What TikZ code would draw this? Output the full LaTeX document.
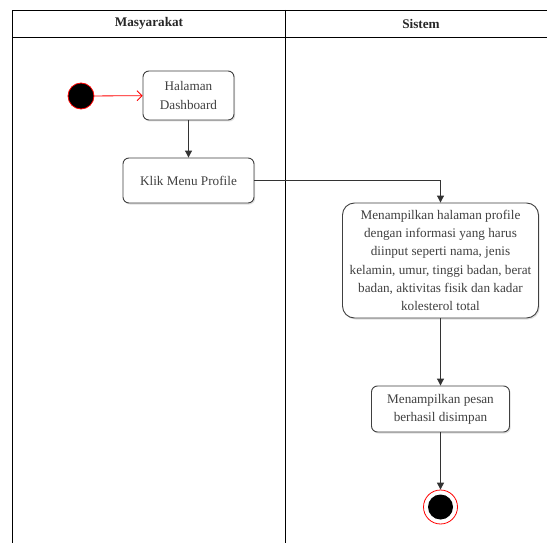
\documentclass[tikz,border=0pt]{standalone}
\usepackage{fontspec}
\setmainfont{Liberation Serif}
\usetikzlibrary{arrows.meta,shadows}

\begin{document}
\begin{tikzpicture}[
					x = 1pt,
					y = -1pt,
					font = \fontsize{13.2}{18.3}\selectfont,
					activity/.style = {
						shape = rectangle,
						draw = black!75,
						line width = 0.9pt,
						rounded corners = 6pt,
						fill = white,
						align = center,
						inner sep = 0pt,
						text = black!75,
						drop shadow = {opacity = 0.25, shadow xshift = 1.2pt, shadow yshift = -1.5pt},
					},
					lanehead/.style = {
						font = \fontsize{13.2}{18}\selectfont\bfseries,
						text = black!85,
					},
					flow/.style = {
						draw = black!80,
						line width = 1pt,
						-{Triangle[length = 7pt, width = 7pt]},
					},
			]
				\useasboundingbox (0, 0) rectangle (547, 543);
				\fill[white] (0, 0) rectangle (547, 543);

				\draw[line width = 0.9pt] (547, 10) -- (12, 10) -- (12, 543);
				\draw[line width = 0.9pt] (12, 37) -- (547, 37);
				\draw[line width = 0.9pt] (285, 10) -- (285, 543);
				\draw (149, 23.5) node (h1) [lanehead] {Masyarakat};
				\draw (421, 23.5) node (h2) [lanehead] {Sistem};

				\draw (81, 96) node (start) [circle, fill = black, draw = red, line width = 0.8pt, minimum size = 26pt, inner sep = 0pt] {};
				\draw (188.5, 95.5) node (a1) [activity, minimum width = 91pt, minimum height = 49pt] {Halaman\\Dashboard};
				\draw (188.5, 180.5) node (a2) [activity, minimum width = 131pt, minimum height = 45pt] {Klik Menu Profile};
				\draw (440.5, 260.5) node (b1) [activity, rounded corners = 12pt, minimum width = 196pt, minimum height = 115pt] {Menampilkan halaman profile\\dengan informasi yang harus\\diinput seperti nama, jenis\\kelamin, umur, tinggi badan, berat\\badan, aktivitas fisik dan kadar\\kolesterol total};
				\draw (440.5, 409) node (b2) [activity, minimum width = 138pt, minimum height = 46pt] {Menampilkan pesan\\berhasil disimpan};
				\draw (440.5, 507) node (stop) [circle, fill = white, draw = red, line width = 0.8pt, minimum size = 34pt, inner sep = 0pt] {};
				\draw (stop.center) node (stopdot) [circle, fill = black, minimum size = 25pt, inner sep = 0pt] {};

				\draw[red, line width = 0.8pt, -{Straight Barb[length = 5pt, width = 10pt]}] (start) -- (a1);
				\draw[flow] (a1) -- (a2);
				\draw[flow] (a2.east) -| (b1.north);
				\draw[flow] (b1) -- (b2);
				\draw[flow] (b2) -- (stop);
			\end{tikzpicture}
\end{document}
